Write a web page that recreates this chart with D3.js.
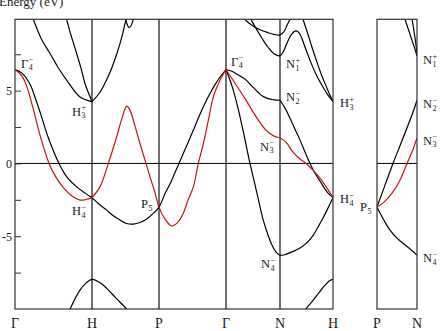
<!DOCTYPE html>
<html>
<head>
<meta charset="utf-8">
<script src="https://cdn.jsdelivr.net/npm/d3@7"></script>
<style>
  body { margin: 0; background: #fff; }
  svg { display: block; }
  text { font-family: "Liberation Serif", "Times New Roman", serif; fill: #1a1a1a; }
</style>
</head>
<body>
<script>
// Canvas size
const width = 441;
const height = 331;

// k-path: high symmetry points (distance along path) and names
const kNodes = [0, 1, 1.866, 2.732, 3.439, 4.146];
const kNames = ["Γ", "H", "P", "Γ", "N", "H"];
const kNodes2 = [0, 0.5];
const kNames2 = ["P", "N"];

// energy ticks (eV)
const yTicks = [-7.5, -5, -2.5, 0, 2.5, 5, 7.5];
const yTickLabels = { "-5": "-5", "0": "0", "5": "5" };

// bands, [k, E]
const blackGH1 = [[0.182,10.59],[0.238,9.88],[0.338,8.60],[0.455,7.55],[0.558,6.61],[0.671,5.72],[0.844,4.57],[1,4.25]];
const blackGH2 = [[0.636,10.59],[0.671,9.88],[0.727,8.81],[0.801,7.55],[0.857,6.54],[0.909,5.49],[1,4.25]];
const blackGH3 = [[0,6.45],[0.091,6.20],[0.195,5.44],[0.273,4.34],[0.338,3.32],[0.429,1.81],[0.571,0],[0.675,-0.94],[0.805,-1.63],[0.909,-2.04],[1,-2.35]];
const redGH = [[0,6.45],[0.091,5.99],[0.156,5.24],[0.234,3.80],[0.325,1.94],[0.442,0],[0.532,-0.94],[0.623,-1.63],[0.740,-2.24],[0.844,-2.52],[0.922,-2.48],[1,-2.35]];
const blackHbottom = [[0.662,-10.75],[0.714,-10.02],[0.844,-8.70],[0.922,-8.22],[1,-7.96],[1.090,-8.15],[1.190,-8.58],[1.310,-9.25],[1.449,-10.02],[1.491,-10.34]];
const blackHP1 = [[1,4.25],[1.103,4.89],[1.233,6.26],[1.323,7.57],[1.388,8.73],[1.439,9.90],[1.465,10.45]];
const blackLoop = [[1.427,10.18],[1.439,9.84],[1.459,9.49],[1.482,9.33],[1.510,9.53],[1.530,9.84],[1.543,10.18]];
const redHPG = [[1,-2.35],[1.103,-1.61],[1.211,0],[1.319,1.83],[1.388,3.11],[1.449,3.93],[1.491,3.66],[1.556,2.56],[1.620,1.37],[1.698,0],[1.750,-0.92],[1.815,-2.04],[1.866,-3.0],[1.944,-3.82],[2.030,-4.30],[2.112,-4.03],[2.180,-3.43],[2.241,-2.52],[2.310,-1.61],[2.374,0],[2.435,1.26],[2.504,2.97],[2.568,4.57],[2.642,5.58],[2.732,6.45]];
const blackHPG = [[1,-2.35],[1.090,-2.79],[1.190,-3.21],[1.271,-3.58],[1.362,-3.89],[1.446,-4.13],[1.534,-4.17],[1.621,-4.06],[1.707,-3.82],[1.788,-3.45],[1.866,-3.0],[1.944,-2.07],[2.008,-1.42],[2.073,-0.63],[2.138,0.16],[2.202,0.95],[2.267,1.74],[2.331,2.56],[2.396,3.38],[2.461,4.14],[2.525,4.80],[2.590,5.41],[2.654,5.92],[2.732,6.45]];
const blackGN4 = [[2.732,6.45],[2.811,5.31],[2.889,3.80],[2.968,1.94],[3.046,0],[3.125,-1.76],[3.216,-3.82],[3.282,-4.92],[3.334,-5.61],[3.387,-6.09],[3.439,-6.3],[3.506,-6.26],[3.612,-6.05],[3.706,-5.81],[3.799,-5.44],[3.879,-4.96],[3.946,-4.37],[4.013,-3.75],[4.079,-3.07],[4.146,-2.35]];
const blackGN2 = [[2.732,6.45],[2.811,6.33],[2.889,6.09],[2.981,5.79],[3.072,5.31],[3.151,4.89],[3.203,4.65],[3.282,4.45],[3.360,4.37],[3.439,4.34]];
const blackNH2 = [[3.439,4.34],[3.506,3.80],[3.572,3.11],[3.639,2.35],[3.706,1.60],[3.773,0.78],[3.839,0],[3.906,-0.67],[3.973,-1.21],[4.039,-1.76],[4.093,-2.11],[4.146,-2.35]];
const redGNH = [[2.732,6.45],[2.850,5.51],[2.981,4.45],[3.072,3.66],[3.155,2.97],[3.243,2.35],[3.308,2.05],[3.374,1.84],[3.439,1.75],[3.519,1.46],[3.612,0.78],[3.706,0.30],[3.786,0],[3.879,-0.46],[3.973,-1.01],[4.066,-1.70],[4.146,-2.35]];
const blackTop1 = [[2.941,10.38],[2.981,9.90],[3.072,9.49],[3.177,9.18],[3.282,8.98],[3.374,8.85],[3.439,8.83],[3.492,9.05],[3.532,9.49],[3.572,9.90],[3.592,10.25]];
const blackTop2 = [[3.033,10.25],[3.059,9.90],[3.125,9.28],[3.203,8.60],[3.282,7.98],[3.360,7.54],[3.439,7.4],[3.479,7.64],[3.532,8.26],[3.586,8.81],[3.639,9.09],[3.679,9.05],[3.719,8.74],[3.773,7.98],[3.839,7.09],[3.919,6.13],[3.999,5.37],[4.079,4.69],[4.146,4.25]];
const blackTop3 = [[3.719,10.38],[3.746,9.90],[3.799,9.08],[3.866,7.98],[3.933,6.95],[3.999,5.99],[4.066,5.17],[4.106,4.69],[4.146,4.25]];
const blackNHbottom = [[3.746,-10.21],[3.786,-9.97],[3.866,-9.49],[3.946,-8.97],[4.013,-8.52],[4.066,-8.22],[4.106,-8.04],[4.146,-7.96]];

// second panel P-N
const pnBlackUp = [[0,-3],[0.1,-1.49],[0.2,0],[0.3,1.39],[0.3875,2.62],[0.45,3.52],[0.5,4.34]];
const pnRed = [[0,-3],[0.0875,-2.66],[0.1875,-2.04],[0.2875,-1.15],[0.375,0],[0.4375,0.78],[0.5,1.75]];
const pnBlackDown = [[0,-3],[0.0375,-3.41],[0.1,-4.03],[0.1625,-4.58],[0.25,-5.13],[0.3375,-5.54],[0.4125,-5.88],[0.5,-6.3]];
const pnTopA = [[0.325,10.38],[0.35,9.90],[0.4,9.08],[0.45,8.25],[0.5,7.4]];
const pnTopB = [[0.4125,10.38],[0.4375,9.9],[0.4625,9.08],[0.4875,8.12],[0.5,7.4]];

// state labels: symbol, subscript, superscript, anchor point
const labelsMain = [
  { sym: "Γ", sub: "4", sup: "−", k: 0, e: 6.45, dx: 6, dy: -2 },
  { sym: "H", sub: "3", sup: "+", k: 1, e: 4.25, dx: -20, dy: 14 },
  { sym: "H", sub: "4", sup: "−", k: 1, e: -2.35, dx: -20, dy: 17.5 },
  { sym: "P", sub: "5", sup: "", k: 1.866, e: -3.0, dx: -18, dy: 1 },
  { sym: "Γ", sub: "4", sup: "−", k: 2.732, e: 6.45, dx: 5, dy: -4 },
  { sym: "N", sub: "1", sup: "+", k: 3.439, e: 7.4, dx: 6, dy: 12.5 },
  { sym: "N", sub: "2", sup: "−", k: 3.439, e: 4.34, dx: 6, dy: 1 },
  { sym: "N", sub: "3", sup: "−", k: 3.439, e: 1.75, dx: -20, dy: 13 },
  { sym: "N", sub: "4", sup: "−", k: 3.439, e: -6.3, dx: -19, dy: 13 },
  { sym: "H", sub: "3", sup: "+", k: 4.146, e: 4.25, dx: 7, dy: 5.5 },
  { sym: "H", sub: "4", sup: "−", k: 4.146, e: -2.35, dx: 7, dy: 5.5 }
];
const labelsPN = [
  { sym: "P", sub: "5", sup: "", k: 0, e: -3.0, dx: -17, dy: 4 },
  { sym: "N", sub: "1", sup: "+", k: 0.5, e: 7.4, dx: 6, dy: 8.5 },
  { sym: "N", sub: "2", sup: "−", k: 0.5, e: 4.34, dx: 6, dy: 8 },
  { sym: "N", sub: "3", sup: "−", k: 0.5, e: 1.75, dx: 6, dy: 7 },
  { sym: "N", sub: "4", sup: "−", k: 0.5, e: -6.3, dx: 6, dy: 7 }
];

const RED = "#cc1010";
const mainBands = [
  [blackGH1, "#000"], [blackGH2, "#000"], [blackGH3, "#000"], [blackHbottom, "#000"],
  [blackHP1, "#000"], [blackLoop, "#000"], [blackHPG, "#000"], [blackGN4, "#000"],
  [blackGN2, "#000"], [blackNH2, "#000"], [blackTop1, "#000"], [blackTop2, "#000"],
  [blackTop3, "#000"], [blackNHbottom, "#000"],
  [redGH, RED], [redHPG, RED], [redGNH, RED]
];
const pnBands = [
  [pnBlackUp, "#000"], [pnBlackDown, "#000"], [pnTopA, "#000"], [pnTopB, "#000"], [pnRed, RED]
];

// scales
const x = d3.scaleLinear().domain(kNodes).range([15, 92, 159, 226, 280, 333]);
const x2 = d3.scaleLinear().domain(kNodes2).range([377, 417]);
const y = d3.scaleLinear().domain([-10, 9.9]).range([309, 19.3]);

const svg = d3.select('body').append('svg')
  .attr('width', width)
  .attr('height', height);

// clip regions
const defs = svg.append('defs');
defs.append('clipPath').attr('id', 'clipMain').append('rect')
  .attr('x', x(0)).attr('y', y(9.9)).attr('width', x(4.146) - x(0)).attr('height', y(-10) - y(9.9));
defs.append('clipPath').attr('id', 'clipPN').append('rect')
  .attr('x', x2(0)).attr('y', y(9.9)).attr('width', x2(0.5) - x2(0)).attr('height', y(-10) - y(9.9));

// y label (top edge cut, as in the original)
svg.append('text').attr('x', -1).attr('y', 6).attr('font-size', 13).text('Energy (eV)');

// separators + zero line
svg.append('g').selectAll('line').data(kNodes.slice(1, -1)).enter().append('line')
  .attr('x1', d => x(d)).attr('x2', d => x(d))
  .attr('y1', y(9.9)).attr('y2', y(-10))
  .attr('stroke', '#222').attr('stroke-width', 1.3);
svg.append('line').attr('x1', x(0)).attr('x2', x(4.146)).attr('y1', y(0)).attr('y2', y(0))
  .attr('stroke', '#000').attr('stroke-width', 1);
svg.append('line').attr('x1', x2(0)).attr('x2', x2(0.5)).attr('y1', y(0)).attr('y2', y(0))
  .attr('stroke', '#000').attr('stroke-width', 1);

// bands
const lineMain = d3.line().x(d => x(d[0])).y(d => y(d[1])).curve(d3.curveCatmullRom.alpha(0.5));
const linePN = d3.line().x(d => x2(d[0])).y(d => y(d[1])).curve(d3.curveCatmullRom.alpha(0.5));

svg.append('g').attr('clip-path', 'url(#clipMain)')
  .selectAll('path').data(mainBands).enter().append('path')
  .attr('d', d => lineMain(d[0]))
  .attr('fill', 'none').attr('stroke', d => d[1]).attr('stroke-width', 1.2);

svg.append('g').attr('clip-path', 'url(#clipPN)')
  .selectAll('path').data(pnBands).enter().append('path')
  .attr('d', d => linePN(d[0]))
  .attr('fill', 'none').attr('stroke', d => d[1]).attr('stroke-width', 1.2);

// frames
svg.append('rect').attr('x', x(0)).attr('y', y(9.9))
  .attr('width', x(4.146) - x(0)).attr('height', y(-10) - y(9.9))
  .attr('fill', 'none').attr('stroke', '#333').attr('stroke-width', 1.2);
svg.append('rect').attr('x', x2(0)).attr('y', y(9.9))
  .attr('width', x2(0.5) - x2(0)).attr('height', y(-10) - y(9.9))
  .attr('fill', 'none').attr('stroke', '#333').attr('stroke-width', 1.2);

// y axis, ticks pointing inward
const yAxis = d3.axisLeft(y).tickValues(yTicks).tickSize(-6).tickPadding(3)
  .tickFormat(d => yTickLabels[String(d)] || '');
svg.append('g').attr('transform', `translate(${x(0)},0)`).call(yAxis)
  .call(g => g.select('.domain').remove())
  .call(g => g.selectAll('.tick line').attr('stroke', '#333'))
  .call(g => g.selectAll('text').attr('font-family', '"Liberation Serif", serif').attr('font-size', 12).attr('fill', '#1a1a1a'));

// k labels
svg.append('g').selectAll('text').data(kNodes).enter().append('text')
  .attr('x', d => x(d)).attr('y', 328).attr('text-anchor', 'middle').attr('font-size', 14)
  .text((d, i) => kNames[i]);
svg.append('g').selectAll('text').data(kNodes2).enter().append('text')
  .attr('x', d => x2(d)).attr('y', 328).attr('text-anchor', 'middle').attr('font-size', 14)
  .text((d, i) => kNames2[i]);

// state labels with sub/superscripts
function stateLabel(g, d, xs) {
  const px = xs(d.k) + d.dx, py = y(d.e) + d.dy;
  const t = g.append('text').attr('x', px).attr('y', py).attr('font-size', 12.5).text(d.sym);
  const w = t.node().getComputedTextLength();
  if (d.sup) g.append('text').attr('x', px + w + 0.5).attr('y', py - 5.5).attr('font-size', 8).text(d.sup);
  if (d.sub) g.append('text').attr('x', px + w + 0.5).attr('y', py + 2.5).attr('font-size', 8).text(d.sub);
}
const gl = svg.append('g');
labelsMain.forEach(d => stateLabel(gl, d, x));
labelsPN.forEach(d => stateLabel(gl, d, x2));
</script>
</body>
</html>
